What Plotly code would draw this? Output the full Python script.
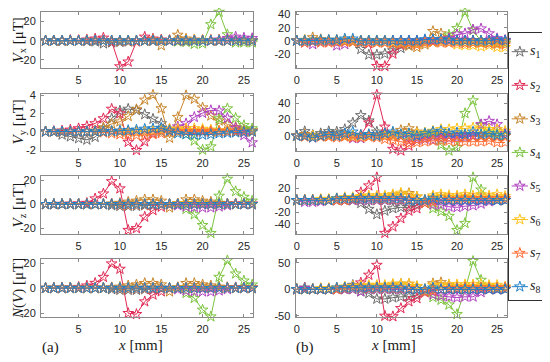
import plotly.graph_objects as go

# ---------------- data ----------------
x_a = list(range(1, 27))   # left column, x = 1..26 mm
x_b = list(range(0, 27))   # right column, x = 0..26 mm

series_labels = ['<i>s</i><sub>1</sub>', '<i>s</i><sub>2</sub>', '<i>s</i><sub>3</sub>', '<i>s</i><sub>4</sub>',
                 '<i>s</i><sub>5</sub>', '<i>s</i><sub>6</sub>', '<i>s</i><sub>7</sub>', '<i>s</i><sub>8</sub>']
colors = ['#6b6b6b', '#e02a55', '#c8862c', '#7cc43f', '#b040c0', '#ffc21a', '#ff6d33', '#2180c8']

xticks_a = [5, 10, 15, 20, 25]
xticks_b = [0, 5, 10, 15, 20, 25]

# (a) Vx
a_vx_s1 = [0, 0, 0, 0, 0, -0.5, -1, -3, -2, -1.5, -1, -0.5, 0, 0, 0, 0, 0, 0, 0, 0, 0, 0, 0, 0, 0, 0]
a_vx_s2 = [0, 0, 0, 0.5, 0.5, 1, 2, 3, -1, -27, -22, -1, 4, 2, 1, 0.5, 0.5, 0.5, 0.5, 0.5, 0.5, 0.5, 0.5, 0.5, 0.5, 0.5]
a_vx_s3 = [0, 0, 0, 0, 0, 0, 0, 0, 0, 0, 0, 0, 0, 1, -5, 0, 6, 2, 1, 0, 0, 0, 0, 0, 0, 0]
a_vx_s4 = [0, 0, 0, 0, 0, 0, 0, 0, 0, 0, 0, 0, 0, 0, 0, 0, -1, -1.5, -3.5, -3, 17, 30, 6.5, -2, -2, -2]
a_vx_s5 = [0, 0, 0, 0, 0, 0, 0, 0, 0, 0, 0, 0, 0, 0, 0, 0, 0, 0, 0, 0, 0.5, 1, 2.5, 4, 3, 2.5]
a_vx_s6 = [0, 0, 0, 0, 0, 0, 0, 0, 0, 0, 0, 0, 0, 0, 0, 0, 0, 0.5, 0.5, 0.5, 0.5, 0.5, 0, 0, 0, 0]
a_vx_s7 = [0, 0, 0, 0, 0, 0, 0, 0, 0, -0.5, -0.5, -0.5, 0, 0, 0, 0, 0, 0, 0, 0, 0, 0, 0, 0, 0, 0]
a_vx_s8 = [0, 0, 0, 0, 0, 0, 0, 0, 0, 0, 0, 0, 0, 0, 0, 0, 0, 0, 0, 0, 0, 0, 0, 0, 0, 0]

# (a) Vy
a_vy_s1 = [0, 0, -0.35, -0.55, -0.75, -0.9, -0.6, 0.35, 1.45, 2.3, 2.5, 2.35, 1.9, 1.4, 0.9, 0.2, 0, 0, 0, 0, 0, 0, 0, 0, 0, 0]
a_vy_s2 = [0, 0.05, 0.1, 0.2, 0.35, 0.6, 0.9, 1.45, 2.5, 2.0, -1.15, -2.05, -1.1, -0.2, 0, 0.1, 0.1, 0.1, 0.1, 0.1, 0.1, 0.1, 0.1, 0.1, 0.1, 0.1]
a_vy_s3 = [0, 0, 0, 0, 0, 0, 0.1, 0.45, 0.85, 1.1, 1.7, 2.45, 3.5, 4.05, 2.55, -0.7, 1.6, 4.0, 3.6, 2.65, 1.75, 1.2, 0.8, 0.5, 0.25, 0.1]
a_vy_s4 = [0, 0, 0, 0, 0, 0, 0, 0, 0, 0, 0, 0, 0, 0, 0, 0, 0, -0.3, -1.0, -2.0, -1.65, 1.45, 2.55, 1.5, 0.7, 0.35]
a_vy_s5 = [0, 0, 0, 0, 0, 0, 0, 0, 0, 0, 0, 0, 0, 0, 0.1, 0.3, 0.55, 0.9, 1.6, 2.05, 2.35, 2.3, 1.5, 0.4, -0.4, -1.2]
a_vy_s6 = [0, 0, 0, 0, 0, 0, 0, 0, 0, 0, 0, 0, 0, 0.1, 0.2, 0.3, 0.3, 0.35, 0.35, 0.3, 0.2, 0.1, 0.1, 0, 0, 0]
a_vy_s7 = [0, 0, 0, 0, 0, 0, 0, -0.1, -0.2, -0.3, -0.35, -0.4, -0.4, -0.3, -0.2, 0, 0, 0, 0, 0, 0, 0, 0, 0, 0, 0]
a_vy_s8 = [0, 0, 0, 0, 0, 0, 0, 0, 0.05, 0.1, 0.15, 0.2, 0.3, 0.35, 0.4, 0.1, -0.2, -0.3, -0.35, -0.35, -0.3, -0.2, -0.15, -0.1, -0.05, 0]

# (a) Vz
a_vz_s1 = [0, 0, 0, 0, 0, 0, 0, 0, -1, -1.5, -1.5, -1.5, -1, -1, -0.5, 0, 0, 0, 0, 0, 0, 0, 0, 0, 0, 0]
a_vz_s2 = [0, 0, 0.2, 0.3, 0.5, 1, 4.7, 8.8, 19, 13, -21.5, -20, -10.5, -5, -2.2, -0.5, 0.5, 0.5, 0.5, 0.5, 0.5, 0.5, 0.5, 0.5, 0.5, 0.5]
a_vz_s3 = [0, 0, 0, 0, 0, 0, 0, 0, 0.5, 1, 2, 2.8, 3.9, 3.9, 2.8, -2.8, 0.5, 3.9, 3.9, 2.8, 2, 1, 0.5, 0, 0, 0]
a_vz_s4 = [0, 0, 0, 0, 0, 0, 0, 0, 0, 0, 0, 0, 0, 0, 0, 0, 0, -4, -8.5, -17.4, -24, 6.9, 21, 10.7, 6, 2.8]
a_vz_s5 = [0, 0, 0, 0, 0, 0, 0, 0, 0, 0, 0, 0, 0, 0, 0, 0, -1, -2, -2.5, -2.8, -2.8, -2, -1, 0, 0, 0]
a_vz_s6 = [0, 0, 0, 0, 0, 0, 0, 0, 0, 0, 0, 0, 0, 0, 0, 0, 0.5, 0.5, 0.5, 0.5, 0, 0, 0, 0, 0, 0]
a_vz_s7 = [0, 0, 0, 0, 0, 0, 0, 0, 0, -0.5, -0.5, -0.5, -0.5, 0, 0, 0, 0, 0, 0, 0, 0, 0, 0, 0, 0, 0]
a_vz_s8 = [0, 0, 0, 0, 0, 0, 0, 0, 0, 0, 0, 0, 0, 0, 0, 0, 0, 0, 0, 0, 0, 0, 0, 0, 0, 0]

# (a) N(V)
a_nv_s1 = [0, 0, 0, 0, 0, 0, 0, 0, -1, -1.5, -1.5, -1.5, -1, -1, -0.5, 0, 0, 0, 0, 0, 0, 0, 0, 0, 0, 0]
a_nv_s2 = [0, 0, 0.2, 0.3, 0.8, 1.9, 4, 8.8, 19.5, 15.2, -20, -20.8, -10.7, -5.3, -2.7, -0.5, 0.5, 0.5, 0.5, 0.5, 0.5, 0.5, 0.5, 0.5, 0.5, 0.5]
a_nv_s3 = [0, 0, 0, 0, 0, 0, 0, 0, 0.5, 1, 2, 2.8, 3.9, 3.9, 2.8, -2.8, 0.5, 3.9, 3.9, 2.8, 2, 1, 0.5, 0, 0, 0]
a_nv_s4 = [0, 0, 0, 0, 0, 0, 0, 0, 0, 0, 0, 0, 0, 0, 0, 0, 0, -4, -8, -17.3, -22.7, 8.8, 22, 11.5, 5.9, 2.7]
a_nv_s5 = [0, 0, 0, 0, 0, 0, 0, 0, 0, 0, 0, 0, 0, 0, 0, 0, -1, -2, -2.5, -2.8, -2.8, -2, -1, 0, 0, 0]
a_nv_s6 = [0, 0, 0, 0, 0, 0, 0, 0, 0, 0, 0, 0, 0, 0, 0, 0, 0.5, 0.5, 0.5, 0.5, 0, 0, 0, 0, 0, 0]
a_nv_s7 = [0, 0, 0, 0, 0, 0, 0, 0, 0, -0.5, -0.5, -0.5, -0.5, 0, 0, 0, 0, 0, 0, 0, 0, 0, 0, 0, 0, 0]
a_nv_s8 = [0, 0, 0, 0, 0, 0, 0, 0, 0, 0, 0, 0, 0, 0, 0, 0, 0, 0, 0, 0, 0, 0, 0, 0, 0, 0]

# (b) Vx
b_vx_s1 = [0, -1, -1, -1, -1, -1, 0, -1.5, -13, -21.5, -21.5, -20, -15, -11.5, -6.5, -3, 0, 0, 0, 0, 0, 0, 0, 0, 0, 0, 0]
b_vx_s2 = [0, 0, 0, 0, 0, 0, 0, 0, -1.5, -4, -39, -39, -20, -6.5, -3, -1, 0, 0, 0, 0, 0, 0, 0, 0, 0, 0, 0]
b_vx_s3 = [0, 1, 5, 2, 1, 1, 1, 0, 0, 0, -2, -3, -4, -5, -8, -10, -6, 14.5, 11, 5, 0, -3, -3, -3, -3, -3, -3]
b_vx_s4 = [0, 0, 0, 0, 0, 0, 0, 0, 0, 0, 0, 0, 0, 0, 0, 0, -1, -2, -1, 9, 19, 44, 16, -1, -4, -4, -4]
b_vx_s5 = [0, -3, -5.5, -1.5, -1.5, -7.5, -5.5, 0, 0, 0, 0, 0, 0, 0, 0, 0, 0, 0, 0, 3.5, 9.5, 11, 17, 18.5, 11, 3.5, 1]
b_vx_s6 = [0, 0, 0, 0, 0, 0, 0, 0, 0, 0, 0, 0, -2, -3, -4, -5, -3, -2, -1, -3, -6, -7, -7, -9, -7, -10, -10]
b_vx_s7 = [0, -3, -1, -3, -3, -2, -2, -2, -2, -3, -3, -3, -4, -4, -4, -6, -3, -2, -3, -3, -3, -4, -3, -3, -4, -5, -6]
b_vx_s8 = [0, 0, 0, 1, 1, 1, 3, 3, 0, 0, 0, 0, 0, 0, 0, 0, 2, 2, 2, 1, 0, 0, 0, 0, 0, 2, 0]

# (b) Vy
b_vy_s1 = [0, 5.5, 1, 3, 5.5, 5, 8, 16, 25, 18.5, 5, 3, 1, 0, 0, 0, 0, 0, 0, 0, 0, 0, 0, 0, 0, 0, 0]
b_vy_s2 = [0, 0, 0, 0, 0, 0, 0, 0, 1, 16, 50, 11, -16, -18, -12, -5, -2, 0, 0, 0, 0, 0, 0, 0, 0, 0, 0]
b_vy_s3 = [0, 2, 0, 1, 1, 1, 1, 0, 0, 0, 0, 2, 3, 7, 9, 5, 3, 5, 2, 0, 0, 0, 0, 0, 0, 0, 0]
b_vy_s4 = [0, 0, 0, 0, 0, 0, 0, 0, 0, 0, 0, 0, 0, 0, 0, 0, 2, 0, -11, -18, -14, 27.5, 43, 13, 5, 3, 1]
b_vy_s5 = [0, 0, -2, 0, 0, 0, 0, -3, -3, 0, 0, 0, 0, 0, -2, -3, -4, -5, -3, -3, -2, -2, 0, 14, 18, 14, 3]
b_vy_s6 = [0, 0, 0, 0, 0, 0, 0, 0, 0, 0, 0, 0, 0, 1, 2, 3, 4, 6, 8, 8, 9, 9, 10, 9, 8, 8, 6]
b_vy_s7 = [0, -1, -2, -1, -1, -2, -1, -2, -2, -1, -2, -4, -5, -7, -9, -8, -7, -6, -6, -6, -7, -7, -7, -7, -6, -8, -8]
b_vy_s8 = [0, 0, -2, 0, 2, 0, 3, 5, 1, 2, 0, 3, 5, 2, 3, 0, 3, 5, 6, 3, 4, 2, 5, 2, 3, 1, 1]

# (b) Vz
b_vz_s1 = [0, 0, 0, 0, 0, 0, 0, 0, -5, -15, -24, -18, -14, -12, -12, -8, -4.6, 0, 0, 0, 0, 0, 0, 0, 0, 0, 0]
b_vz_s2 = [0, 0, 0, 0, 0, 0, 0, 2, 13.5, 25, 39, -56, -45, -31, -18, -14, -2, 0, 0, 0, 0, 0, 0, 0, 0, 0, 0]
b_vz_s3 = [0, 0, 0, 0, 0, 3, 3, 3, 5, 5, 5, 5, 8, 10, 12, 6, 0, 5, 5, 5, 5, 5, 3, 3, 3, 3, 3]
b_vz_s4 = [0, 0, 0, 0, 0, 0, 0, 0, 0, 0, 0, 0, 0, 0, 0, 0, 0, -14, -19, -27, -51, -39, 39, 18, 4, 1, 0]
b_vz_s5 = [0, -3, -3, -2, 0, 0, 0, 0, 0, 0, 0, 0, 0, 0, 0, 0, 0, -7.5, -7.5, -11, -12, -10, -9, -6, -2, 0, 0]
b_vz_s6 = [0, 0, 0, 2, 2, 3, 5, 5, 7, 8, 8, 8, 10, 12.5, 10, 6, 0, 8, 10, 8.5, 8, 10, 8, 10, 8, 10, 7]
b_vz_s7 = [0, 0, 0, 0, 0, 0, 0, 2, 3, 3, 2, 2, 2, 2, 2, 0, -5, -3, 0, 2, 2, 3, 3, 3, 3, 3, 3]
b_vz_s8 = [0, 0, 0, 0, 0, 3, 3, 3, 3, 3, 3, 3, 3, 3, 0, 0, 0, 3, 0, 0, 0, 0, 0, 0, 0, 0, 0]

# (b) N(V)
b_nv_s1 = [0, 3, 0, 0, 0, 0, 3, 8, -4.4, -7.5, -18, -18, -15.6, -14, -14, -10.6, -4, 0, 0, 0, 0, 0, 0, 0, 0, 0, 0]
b_nv_s2 = [0, 0, 0, 0, 0, 0, 0, 4, 12.5, 27, 45.6, -50, -51, -35.6, -23, -17, -6, 0, 0, 0, 0, 0, 0, 0, 0, 0, 0]
b_nv_s3 = [0, 2, 0, 0, 0, 2, 3, 5, 5, 5, 5, 5, 8, 10, 10, 5, 0, 11, 13, 8, 5, 5, 5, 3, 3, 3, 3]
b_nv_s4 = [0, 0, 0, 0, 0, 0, 0, 0, 0, 0, 0, 0, 0, 0, 0, 0, -4, -15, -20, -29, -47, 0, 53, 17.5, 5, 2, 0]
b_nv_s5 = [0, 2, 0, 0, 0, 0, 0, 0, -4, 0, 0, 0, 0, 0, 0, 0, -5, -10, -12.5, -14, -15.6, -14, -14, -5.6, 0, 0, 0]
b_nv_s6 = [0, 0, 0, 2, 2, 3, 5, 6, 7, 8, 8, 8, 10, 10, 10, 6, 0, 8, 8, 9, 9, 9, 9, 10, 8, 8, 5]
b_nv_s7 = [0, 0, 0, 0, 0, 0, 2, 3, 3, 2, 2, 2, 2, 2, 2, 0, -5, -3, 0, 2, 2, 3, 3, 3, 3, 3, 3]
b_nv_s8 = [0, 0, 0, 0, 0, 3, 3, 3, 3, 3, 3, 3, 3, 3, 0, 0, 0, 3, 0, 0, 0, 0, 0, 0, 0, 0, 0]

# --------------- figure ---------------
# The page body has an 8px margin, so the figure is 8px smaller in each direction and
# window pixel p corresponds to figure pixel p - 8.
OFF = 8
W, H = 550 - OFF, 362 - OFF
def px_x(p): return (p - OFF) / W
def px_y(p): return 1 - (p - OFF) / H

col_dom = {'a': [px_x(41), px_x(253)], 'b': [px_x(295.5), px_x(506.7)]}
row_dom = [[px_y(67.5), px_y(12)], [px_y(150.7), px_y(94)],
           [px_y(234), px_y(175.5)], [px_y(317), px_y(259)]]

panels = [
    # (col, row, x, series, yrange, yticks)
    ('a', 0, x_a, [a_vx_s1, a_vx_s2, a_vx_s3, a_vx_s4, a_vx_s5, a_vx_s6, a_vx_s7, a_vx_s8], [-28, 30], [-20, 0, 20]),
    ('a', 1, x_a, [a_vy_s1, a_vy_s2, a_vy_s3, a_vy_s4, a_vy_s5, a_vy_s6, a_vy_s7, a_vy_s8], [-2.1, 4.15], [-2, 0, 2, 4]),
    ('a', 2, x_a, [a_vz_s1, a_vz_s2, a_vz_s3, a_vz_s4, a_vz_s5, a_vz_s6, a_vz_s7, a_vz_s8], [-24.7, 23.9], [-20, 0, 20]),
    ('a', 3, x_a, [a_nv_s1, a_nv_s2, a_nv_s3, a_nv_s4, a_nv_s5, a_nv_s6, a_nv_s7, a_nv_s8], [-23, 23.2], [-20, 0, 20]),
    ('b', 0, x_b, [b_vx_s1, b_vx_s2, b_vx_s3, b_vx_s4, b_vx_s5, b_vx_s6, b_vx_s7, b_vx_s8], [-41, 44], [-20, 0, 20, 40]),
    ('b', 1, x_b, [b_vy_s1, b_vy_s2, b_vy_s3, b_vy_s4, b_vy_s5, b_vy_s6, b_vy_s7, b_vy_s8], [-18, 51], [0, 20, 40]),
    ('b', 2, x_b, [b_vz_s1, b_vz_s2, b_vz_s3, b_vz_s4, b_vz_s5, b_vz_s6, b_vz_s7, b_vz_s8], [-57.5, 42.3], [-40, -20, 0, 20]),
    ('b', 3, x_b, [b_nv_s1, b_nv_s2, b_nv_s3, b_nv_s4, b_nv_s5, b_nv_s6, b_nv_s7, b_nv_s8], [-52, 57], [-50, 0, 50]),
]

AX_COLOR = '#8a8a8a'
TICK_FONT = dict(family='Arial, Liberation Sans, sans-serif', size=11, color='#262626')
SERIF = 'Times New Roman, Liberation Serif, serif'
MSIZE = 8

fig = go.Figure()
layout = dict(width=W, height=H, margin=dict(l=0, r=0, t=0, b=0, autoexpand=False),
              paper_bgcolor='white', plot_bgcolor='white', showlegend=False)

for i, (col, row, xs, series, yr, yt) in enumerate(panels):
    n = i + 1
    xa = 'xaxis' if n == 1 else f'xaxis{n}'
    ya = 'yaxis' if n == 1 else f'yaxis{n}'
    xref = 'x' if n == 1 else f'x{n}'
    yref = 'y' if n == 1 else f'y{n}'
    xt = xticks_a if col == 'a' else xticks_b
    layout[xa] = dict(domain=col_dom[col], anchor=yref,
                      range=[0.45, 26.1] if col == 'a' else [-0.15, 26.2],
                      tickmode='array', tickvals=xt, ticktext=[str(v) for v in xt],
                      showticklabels=True, automargin=False, ticklabelstandoff=2,
                      ticks='inside', ticklen=3, tickcolor=AX_COLOR,
                      showline=True, linecolor=AX_COLOR, linewidth=1, mirror='ticks',
                      showgrid=False, zeroline=False, tickfont=TICK_FONT)
    layout[ya] = dict(domain=row_dom[row], anchor=xref, range=yr,
                      tickmode='array', tickvals=yt, ticktext=[str(v) for v in yt],
                      showticklabels=True, automargin=False, ticklabelstandoff=2,
                      ticks='inside', ticklen=3, tickcolor=AX_COLOR,
                      showline=True, linecolor=AX_COLOR, linewidth=1, mirror='ticks',
                      showgrid=False, zeroline=False, tickfont=TICK_FONT)
    for k, ys in enumerate(series):
        fig.add_trace(go.Scatter(
            x=xs, y=ys, xaxis=xref, yaxis=yref, mode='lines+markers',
            line=dict(color=colors[k], width=1),
            marker=dict(symbol='star-open', size=MSIZE, color=colors[k], line=dict(width=1, color=colors[k])),
            cliponaxis=False, name=series_labels[k], hoverinfo='x+y+name'))

# ---- legend (drawn on its own small axis) ----
legend_rows = [1, 2, 3, 4, 5, 6, 7, 8]
layout['xaxis9'] = dict(domain=[px_x(509.3), px_x(543.3)], anchor='y9', range=[0, 1],
                        showline=True, mirror=True, linecolor='#303030', linewidth=1,
                        showticklabels=False, ticks='', showgrid=False, zeroline=False, fixedrange=True)
layout['yaxis9'] = dict(domain=[px_y(300), px_y(32.7)], anchor='x9', range=[8.397, 0.434],
                        showline=True, mirror=True, linecolor='#303030', linewidth=1,
                        showticklabels=False, ticks='', showgrid=False, zeroline=False, fixedrange=True)
annotations = []
for k, r in enumerate(legend_rows):
    fig.add_trace(go.Scatter(
        x=[0.07, 0.55], y=[r, r], xaxis='x9', yaxis='y9', mode='lines',
        line=dict(color=colors[k], width=1), hoverinfo='skip'))
    fig.add_trace(go.Scatter(
        x=[0.31], y=[r], xaxis='x9', yaxis='y9', mode='markers',
        marker=dict(symbol='star-open', size=MSIZE, color=colors[k], line=dict(width=1, color=colors[k])),
        hoverinfo='skip'))
    annotations.append(dict(xref='x9', yref='y9', x=0.57, y=r, text=series_labels[k],
                            showarrow=False, xanchor='left', yanchor='middle', borderpad=0,
                            font=dict(family=SERIF, size=14, color='#1a1a1a')))

# ---- axis titles & panel tags ----
ytitles = ['<i>V</i><sub>x</sub> [μT]', '<i>V</i><sub>y</sub> [μT]',
           '<i>V</i><sub>z</sub> [μT]', '<i>N</i>(<i>V</i>) [μT]']
ycent = [40, 122, 205, 289]
for t, yc in zip(ytitles, ycent):
    annotations.append(dict(xref='paper', yref='paper', x=px_x(8.5), y=px_y(yc), text=t,
                            textangle=-90, showarrow=False, xanchor='left', yanchor='middle',
                            borderpad=0, font=dict(family=SERIF, size=15, color='#1a1a1a')))
for xc in [140, 393]:
    annotations.append(dict(xref='paper', yref='paper', x=px_x(xc), y=px_y(345), text='<i>x</i> [mm]',
                            showarrow=False, xanchor='center', yanchor='middle', borderpad=0,
                            font=dict(family=SERIF, size=15, color='#1a1a1a')))
for t, xc in [('(a)', 50), ('(b)', 305)]:
    annotations.append(dict(xref='paper', yref='paper', x=px_x(xc), y=px_y(347), text=t,
                            showarrow=False, xanchor='center', yanchor='middle', borderpad=0,
                            font=dict(family=SERIF, size=15, color='#1a1a1a')))

layout['annotations'] = annotations
fig.update_layout(**layout)
fig.write_html('out.html')
